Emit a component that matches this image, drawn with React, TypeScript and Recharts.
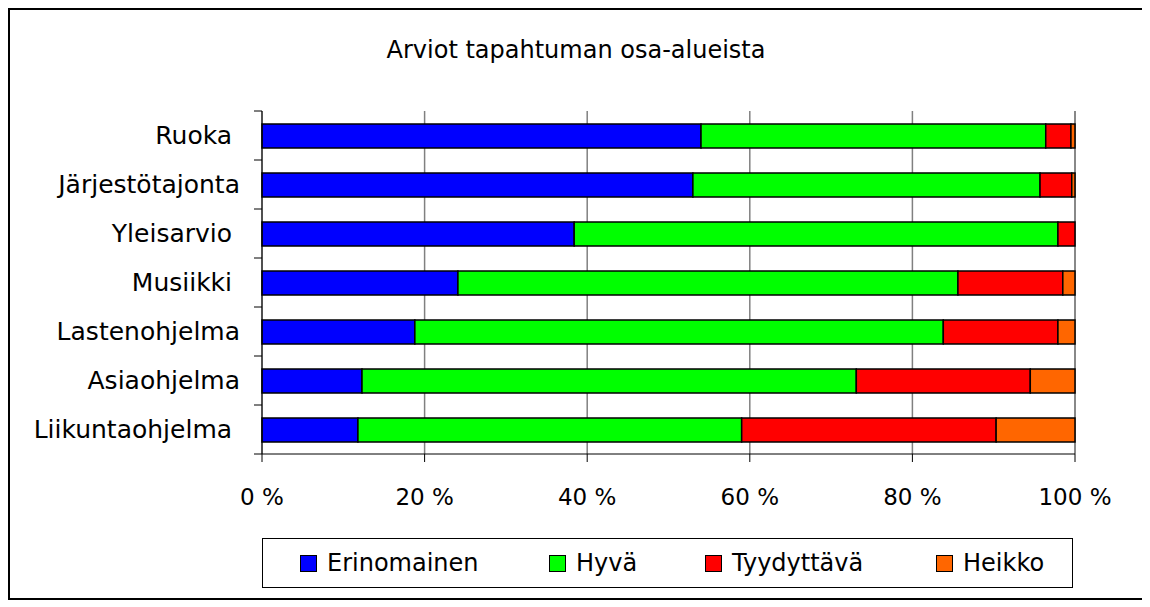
import React from 'react';
import { BarChart, Bar, XAxis, YAxis, CartesianGrid, Legend } from 'recharts';

// categories top to bottom
const categories = ['Ruoka ', 'Järjestötajonta', 'Yleisarvio ', 'Musiikki ', 'Lastenohjelma', 'Asiaohjelma', 'Liikuntaohjelma '];

// shares in percent
const erinomainen = [54.0, 53.0, 38.4, 24.1, 18.8, 12.3, 11.8];
const hyva = [42.4, 42.7, 59.5, 61.5, 65.0, 60.8, 47.2];
const tyydyttava = [3.1, 3.9, 2.1, 12.9, 14.1, 21.4, 31.3];
const heikko = [0.5, 0.4, 0, 1.5, 2.1, 5.5, 9.7];

const seriesNames = ['Erinomainen', 'Hyvä', 'Tyydyttävä', 'Heikko'];
const seriesColors = ['#0000FF', '#00FF00', '#FF0000', '#FF6600'];
const xTicks = [0, 20, 40, 60, 80, 100];

const data = categories.map((name, i) => ({
  name,
  Erinomainen: erinomainen[i],
  Hyvä: hyva[i],
  Tyydyttävä: tyydyttava[i],
  Heikko: heikko[i],
}));

const FONT = '"DejaVu Sans", Verdana, sans-serif';
const W = 1132;
const H = 588;
const MARGIN = { top: 101, right: 67, left: 0, bottom: 34 };
const X_AXIS_H = 60;
const LEGEND_H = 50;
const PLOT_H = H - MARGIN.top - MARGIN.bottom - X_AXIS_H - LEGEND_H;
const BAND = PLOT_H / categories.length;

const CategoryTick = (props: any) => {
  const { x, y, payload, index } = props;
  return (
    <g>
      <line x1={x - 8} x2={x} y1={y - BAND / 2} y2={y - BAND / 2} stroke="#000" />
      {index === categories.length - 1 && (
        <line x1={x - 8} x2={x} y1={y + BAND / 2} y2={y + BAND / 2} stroke="#000" />
      )}
      <text
        x={x - 22}
        y={y}
        textAnchor="end"
        dominantBaseline="central"
        xmlSpace="preserve"
        fontFamily={FONT}
        fontSize={25}
        fill="#000"
      >
        {payload.value}
      </text>
    </g>
  );
};

// left edge of each legend item inside the legend box
const legendLeft = [37, 286, 442, 673];

const LegendBox = () => (
  <div
    style={{
      position: 'relative',
      width: 811,
      height: LEGEND_H,
      border: '1px solid #000',
      boxSizing: 'border-box',
      fontFamily: FONT,
      fontSize: 24,
      color: '#000',
    }}
  >
    {seriesNames.map((n, i) => (
      <div
        key={n}
        style={{ position: 'absolute', left: legendLeft[i], top: 0, height: LEGEND_H - 2, display: 'flex', alignItems: 'center' }}
      >
        <span
          style={{
            display: 'inline-block',
            width: 15,
            height: 15,
            background: seriesColors[i],
            border: '1px solid #000',
            marginRight: 10,
          }}
        />
        <span>{n}</span>
      </div>
    ))}
  </div>
);

export default function App() {
  return (
    <div
      style={{
        position: 'relative',
        width: W,
        height: H,
        border: '2px solid #000',
        background: '#fff',
      }}
    >
      <div
        style={{
          position: 'absolute',
          top: 26,
          left: 0,
          width: W,
          textAlign: 'center',
          fontFamily: FONT,
          fontSize: 24,
          color: '#000',
          zIndex: 2,
        }}
      >
        Arviot tapahtuman osa-alueista
      </div>
      <BarChart width={W} height={H} data={data} layout="vertical" margin={MARGIN} barSize={24}>
        <CartesianGrid xAxisId="main" horizontal={false} stroke="#808080" strokeWidth={1.5} />
        <XAxis
          xAxisId="main"
          type="number"
          domain={[0, 100]}
          ticks={xTicks}
          tickFormatter={(v: number) => `${v} %`}
          axisLine={{ stroke: '#000' }}
          tickLine={{ stroke: '#000' }}
          tickSize={8}
          tickMargin={27}
          height={X_AXIS_H}
          tick={{ fill: '#000', fontSize: 23, fontFamily: FONT }}
          interval={0}
        />
        <XAxis
          xAxisId="top"
          orientation="top"
          type="number"
          domain={[0, 100]}
          height={0}
          tick={false}
          tickLine={false}
          axisLine={{ stroke: '#808080', strokeWidth: 1.5 }}
        />
        <YAxis
          type="category"
          dataKey="name"
          width={252}
          axisLine={{ stroke: '#000' }}
          tickLine={false}
          tickSize={0}
          tickMargin={0}
          tick={<CategoryTick />}
          interval={0}
        />
        <Legend
          verticalAlign="bottom"
          content={<LegendBox />}
          wrapperStyle={{ position: 'absolute', left: 252, top: 528, width: 811, height: LEGEND_H }}
        />
        {seriesNames.map((n, i) => (
          <Bar
            key={n}
            xAxisId="main"
            dataKey={n}
            stackId="a"
            fill={seriesColors[i]}
            stroke="#000"
            strokeWidth={1.5}
            isAnimationActive={false}
          />
        ))}
      </BarChart>
    </div>
  );
}
